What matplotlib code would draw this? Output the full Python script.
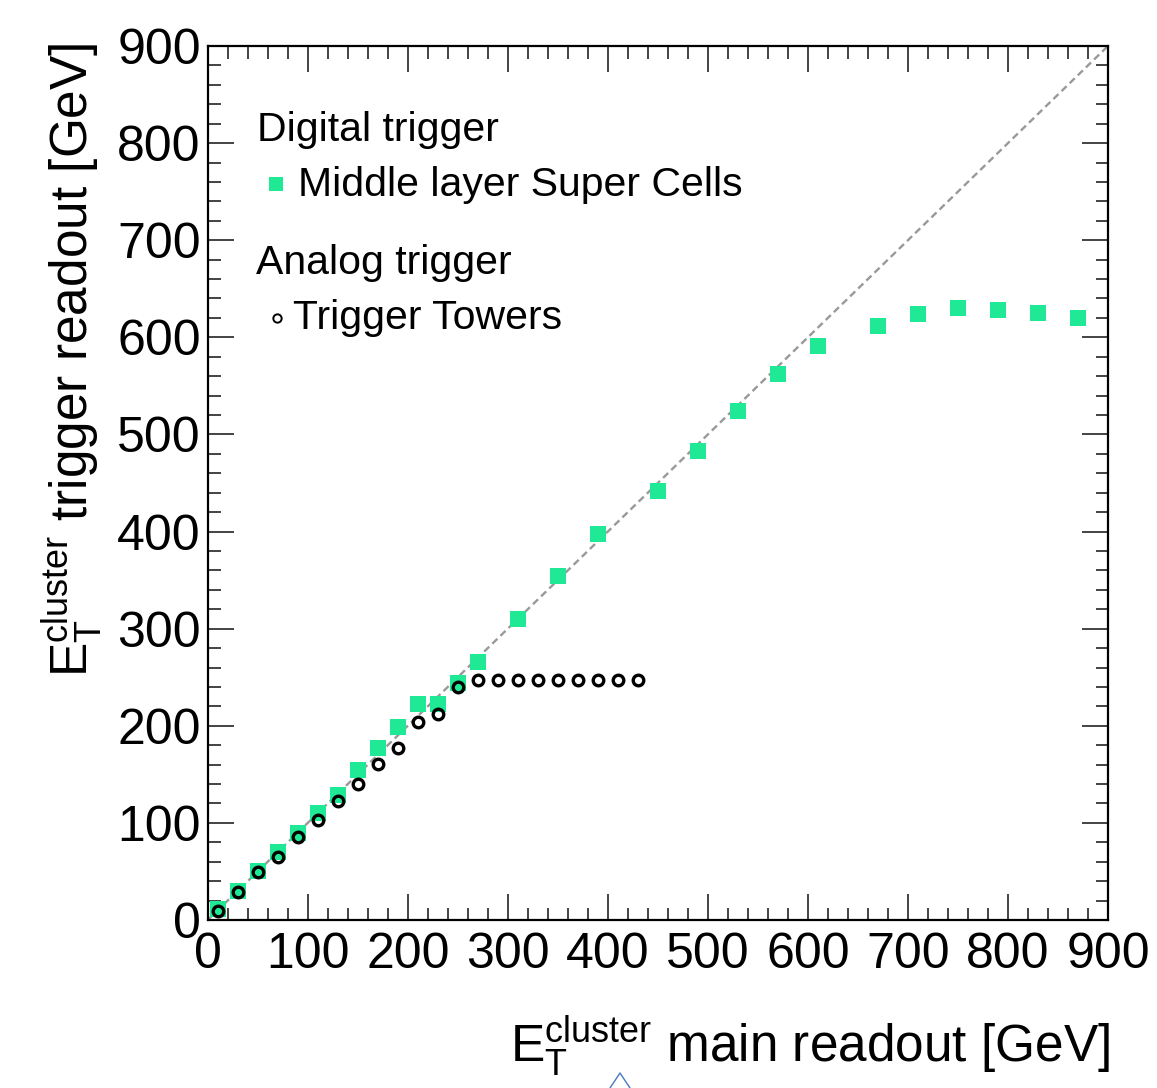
import matplotlib
matplotlib.use('Agg')
import matplotlib.pyplot as plt
from matplotlib.lines import Line2D
from matplotlib.ticker import MultipleLocator

# Super Cells (digital trigger)
sc_x = [10, 30, 50, 70, 90, 110, 130, 150, 170, 190, 210, 230, 250, 270,
        310, 350, 390, 450, 490, 530, 570, 610, 670, 710, 750, 790, 830, 870]
sc_y = [11, 30, 50, 70, 90, 110, 129, 154, 177, 199, 222, 222, 244, 266,
        310, 354, 397, 442, 483, 524, 562, 591, 612, 624, 630, 628, 625, 620]

# Trigger Towers (analog trigger)
tt_x = [10, 30, 50, 70, 90, 110, 130, 150, 170, 190, 210, 230, 250,
        270, 290, 310, 330, 350, 370, 390, 410, 430]
tt_y = [9, 29, 49, 65, 85, 103, 123, 140, 161, 177, 204, 212, 240,
        247, 247, 247, 247, 247, 247, 247, 247, 247]

diag = [0, 900]
ticks = [0, 100, 200, 300, 400, 500, 600, 700, 800, 900]

green = '#1fe994'

plt.rcParams['font.family'] = ['Liberation Sans', 'DejaVu Sans']
plt.rcParams['mathtext.fontset'] = 'custom'
plt.rcParams['mathtext.rm'] = 'Liberation Sans'
plt.rcParams['mathtext.it'] = 'Liberation Sans'

W, H = 1157, 1088
fig = plt.figure(figsize=(W / 100, H / 100), dpi=100)
ax = fig.add_axes([207.7 / W, 1 - 920 / H, 900.3 / W, 874 / H])

ax.plot(diag, diag, ls=(0, (3, 1.8)), color='#999999', lw=1.7, zorder=1)
ax.plot(sc_x, sc_y, ls='none', marker='s', ms=11, mfc=green, mec=green, mew=0, zorder=2)
ax.plot(tt_x, tt_y, ls='none', marker='o', ms=7.6, mfc='none', mec='black', mew=2.4, zorder=3)

ax.set_xlim(0, 900)
ax.set_ylim(0, 900)
ax.set_xticks(ticks)
ax.set_yticks(ticks)
ax.xaxis.set_minor_locator(MultipleLocator(20))
ax.yaxis.set_minor_locator(MultipleLocator(20))
ax.tick_params(which='both', direction='in', top=True, right=True, width=1.1, color='#111111')
ax.tick_params(which='major', length=18.5)
ax.tick_params(which='minor', length=9)
ax.tick_params(axis='x', labelsize=36, pad=9)
ax.tick_params(axis='y', labelsize=36, pad=5)
for s in ax.spines.values():
    s.set_linewidth(1.6)

# legend drawn by hand, ROOT style
tx = ax.transAxes
ax.text(0.0544, 0.8915, 'Digital trigger', fontsize=29.5, transform=tx, va='baseline')
ax.plot([0.0759], [0.8425], marker='s', ms=9.5, mfc=green, mec=green, mew=0,
        transform=tx, clip_on=False)
ax.text(0.1003, 0.8282, 'Middle layer Super Cells', fontsize=29.5, transform=tx, va='baseline')
ax.text(0.0537, 0.7388, 'Analog trigger', fontsize=29.5, transform=tx, va='baseline')
ax.plot([0.0766], [0.6892], marker='o', ms=6, mfc='none', mec='black', mew=1.4,
        transform=tx, clip_on=False)
ax.text(0.0947, 0.6758, 'Trigger Towers', fontsize=29.5, transform=tx, va='baseline')

# axis titles, right aligned like ROOT
etc = r'$\mathrm{E}_{\mathrm{T}}^{\mathrm{cluster}}$'
fig.text(1110 / W, 1 - 1062 / H, etc + ' main readout [GeV]', fontsize=37,
         ha='right', va='baseline')
fig.text(88 / W, 1 - 43 / H, etc + ' trigger readout [GeV]', fontsize=37,
         rotation=90, rotation_mode='anchor', ha='right', va='baseline')

# small blue caret at the bottom edge of the original image
fig.add_artist(Line2D([610 / W, 620 / W, 630 / W], [0, 15 / H, 0],
                      transform=fig.transFigure, color='#4a78c0', lw=1))

fig.savefig('out.png', dpi=100)
